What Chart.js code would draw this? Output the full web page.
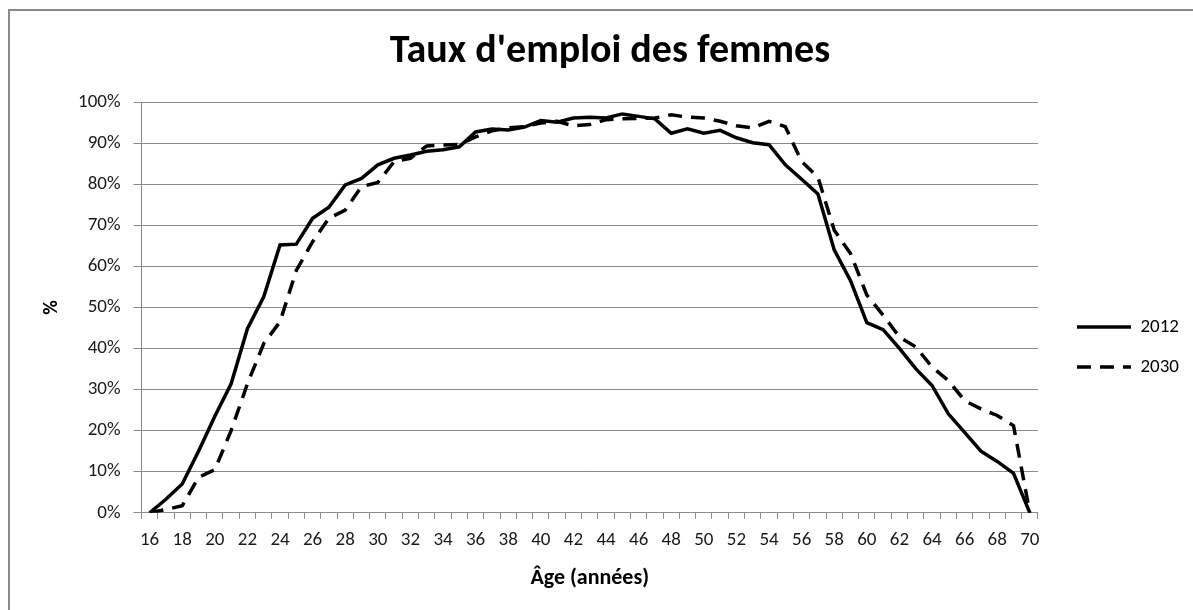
<!DOCTYPE html>
<html>
<head>
<meta charset="utf-8">
<script src="https://cdn.jsdelivr.net/npm/chart.js@4"></script>
<style>
  html, body { margin: 0; padding: 0; background: #fff; overflow: hidden; }
  #wrap { position: absolute; left: 0; top: 0; width: 1193px; height: 610px; }
  #frame { position: absolute; left: 8px; top: 9px; width: 1300px; height: 700px;
           border-left: 2px solid #8a8a8a; border-top: 2px solid #8a8a8a; pointer-events: none; }
</style>
</head>
<body>
<div id="wrap"><canvas id="myChart" width="1193" height="610"></canvas></div>
<div id="frame"></div>
<script>
var ages = [];
for (var a = 16; a <= 70; a++) ages.push(String(a));

var taux2012 = [0, 3.3, 7, 15, 23.5, 31.4, 44.8, 52.6, 65.2, 65.4,
    71.7, 74.4, 79.8, 81.4, 84.7, 86.3, 87.1, 88, 88.4, 89.1,
    92.7, 93.4, 93.2, 93.9, 95.5, 95.1, 96.1, 96.3, 96.1, 97.1,
    96.5, 95.9, 92.4, 93.5, 92.4, 93.1, 91.3, 90.1, 89.6, 84.7,
    81.2, 77.6, 64, 56.5, 46.3, 44.6, 40, 35.1, 31, 24.1,
    19.6, 15, 12.5, 9.6, 0];

var taux2030 = [0, 0.8, 1.7, 8.6, 10.5, 20, 31.4, 41.2, 46.5, 59,
    66, 71.7, 73.7, 79.4, 80.4, 85.5, 86.3, 89.3, 89.5, 89.7,
    91.5, 93, 93.7, 94, 94.9, 95.3, 94.2, 94.5, 95.7, 95.9,
    96, 96.1, 96.9, 96.3, 96.1, 95.3, 94.2, 93.7, 95.3, 94,
    85.5, 81.7, 68.8, 63.1, 53, 48.1, 42.8, 40.4, 35.5, 32.2,
    27.3, 25.3, 23.7, 21.2, 0];

var fontFamily = "Carlito, Lato, 'Open Sans', sans-serif";
var gridColor = "#8a8a8a";
var textColor = "#1a1a1a";

new Chart("myChart", {
    type: "line",
    data: {
        labels: ages,
        datasets: [{
            label: "2012",
            data: taux2012,
            borderColor: "#000",
            backgroundColor: "#000",
            borderWidth: 3.5,
            pointRadius: 0,
            pointStyle: "line",
            tension: 0
        }, {
            label: "2030",
            data: taux2030,
            borderColor: "#000",
            backgroundColor: "#000",
            borderWidth: 3.5,
            borderDash: [14, 9],
            pointRadius: 0,
            pointStyle: "line",
            tension: 0
        }]
    },
    options: {
        responsive: false,
        animation: false,
        layout: {
            padding: { left: 31, right: 4, top: 18, bottom: 18 }
        },
        plugins: {
            title: {
                display: true,
                text: "Taux d'emploi des femmes",
                color: "#000",
                font: { family: fontFamily, size: 40, weight: "bold" },
                padding: { top: 10, bottom: 26 }
            },
            legend: {
                position: "right",
                align: "start",
                title: { display: true, text: "", padding: { top: 264, bottom: 0 } },
                labels: {
                    usePointStyle: true,
                    pointStyleWidth: 54,
                    boxWidth: 54,
                    boxHeight: 19,
                    padding: 21,
                    color: "#000",
                    font: { family: fontFamily, size: 19 },
                    generateLabels: function (chart) {
                        var items = Chart.defaults.plugins.legend.labels.generateLabels(chart);
                        items.forEach(function (item) {
                            var ds = chart.data.datasets[item.datasetIndex];
                            item.lineDash = ds.borderDash || [];
                            item.lineWidth = ds.borderWidth;
                            item.strokeStyle = ds.borderColor;
                        });
                        return items;
                    }
                }
            },
            tooltip: { enabled: false }
        },
        scales: {
            x: {
                offset: true,
                grid: {
                    offset: true,
                    drawOnChartArea: false,
                    drawTicks: true,
                    tickLength: 6,
                    color: gridColor
                },
                border: { color: gridColor },
                ticks: {
                    autoSkip: false,
                    maxRotation: 0,
                    padding: 10,
                    color: textColor,
                    font: { family: fontFamily, size: 19 },
                    callback: function (value, index) {
                        return index % 2 === 0 ? ages[index] : "";
                    }
                },
                title: {
                    display: true,
                    text: "Âge (années)",
                    color: "#000",
                    font: { family: fontFamily, size: 22, weight: "bold" },
                    padding: { top: 4, bottom: 0 }
                }
            },
            y: {
                min: 0,
                max: 100,
                grid: {
                    color: gridColor,
                    tickLength: 8
                },
                border: { color: gridColor },
                ticks: {
                    stepSize: 10,
                    padding: 13,
                    color: textColor,
                    font: { family: fontFamily, size: 19 },
                    callback: function (value) { return value + "%"; }
                },
                title: {
                    display: true,
                    text: "%",
                    color: "#000",
                    font: { family: fontFamily, size: 20, weight: "bold" },
                    padding: { top: 9, bottom: 1 }
                }
            },
            gap: {
                type: "linear",
                position: "right",
                display: true,
                grid: { display: false, drawTicks: false },
                border: { display: false },
                ticks: { display: false },
                afterFit: function (scale) { scale.width = 18; }
            }
        }
    }
});
</script>
</body>
</html>
